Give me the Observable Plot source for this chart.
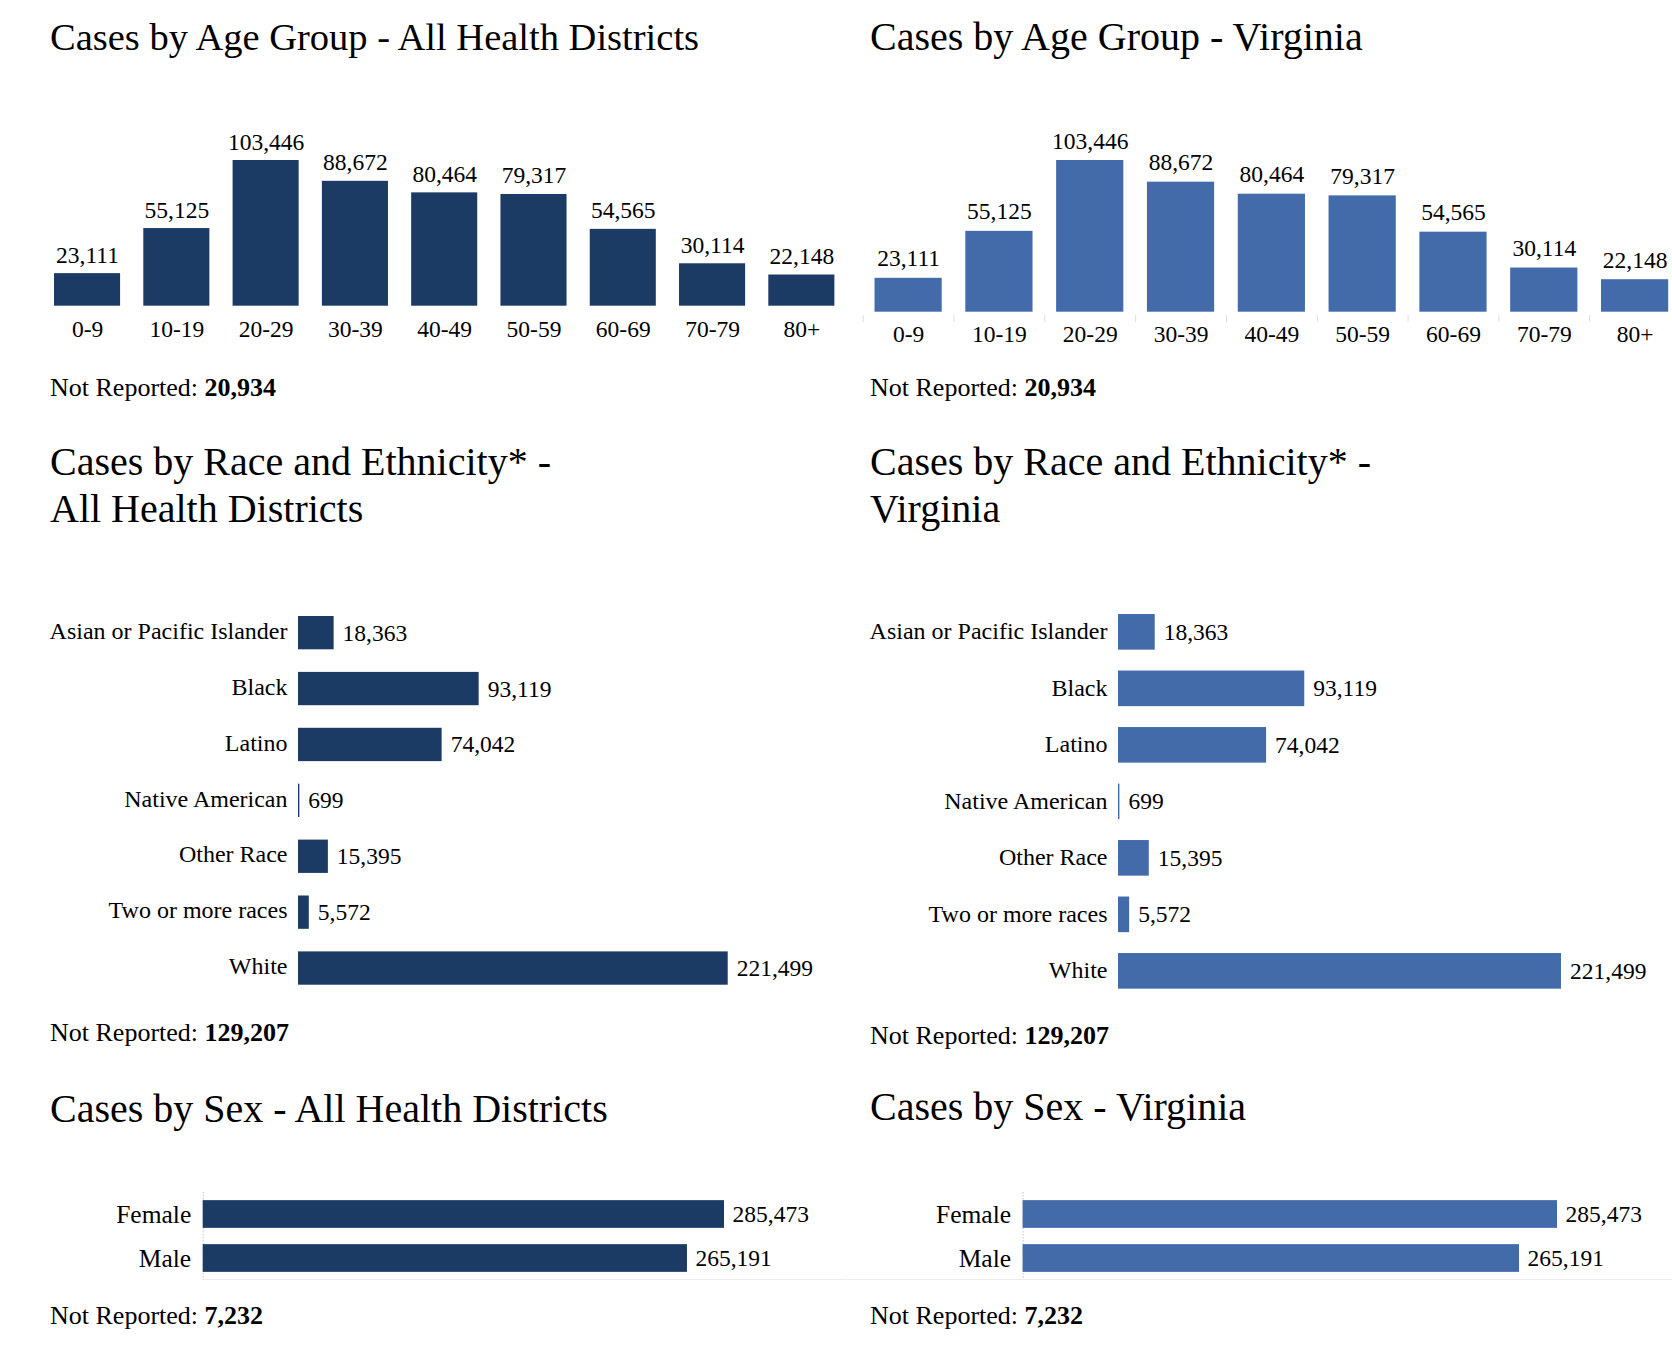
<!DOCTYPE html>
<html><head><meta charset="utf-8">
<script src="https://cdn.jsdelivr.net/npm/d3@7"></script>
<script src="https://cdn.jsdelivr.net/npm/@observablehq/plot@0.6"></script>
<style>
html,body{margin:0;padding:0;background:#fff;overflow:hidden;}
#page{position:relative;width:1672px;height:1356px;font-family:"Liberation Serif","Times New Roman",serif;color:#000;}
.abs{position:absolute;}
.title{font-size:40px;line-height:47px;white-space:nowrap;}
.title.small{font-size:38.5px;}
.nr{font-size:26px;line-height:30px;white-space:nowrap;}
.hline{height:1px;background:#ebebeb;}
svg{overflow:visible;}
</style></head><body><div id="page"></div>
<script>
// ---- data ----
const regions = ["All Health Districts", "Virginia"];
const regionColors = ["#1b3a64", "#436aa9"];

const ageGroups = ["0-9","10-19","20-29","30-39","40-49","50-59","60-69","70-79","80+"];
const ageCases = [23111, 55125, 103446, 88672, 80464, 79317, 54565, 30114, 22148];
const ageNotReported = 20934;

const raceGroups = ["Asian or Pacific Islander","Black","Latino","Native American","Other Race","Two or more races","White"];
const raceCases = [18363, 93119, 74042, 699, 15395, 5572, 221499];
const raceNotReported = 129207;

const sexGroups = ["Female","Male"];
const sexCases = [285473, 265191];
const sexNotReported = 7232;

// ---- tables ----
const ageData = ageGroups.map((g, i) => ({group: g, cases: ageCases[i]}));
const raceData = raceGroups.map((g, i) => ({group: g, cases: raceCases[i]}));
const sexData = sexGroups.map((g, i) => ({group: g, cases: sexCases[i]}));
const fmt = d3.format(",");
const FONT = "'Liberation Serif','Times New Roman',serif";

// ---- layout ----
const layouts = [
  {
    tx: 50, ageTitleClass: "title small",
    age: {left: 0, top: 100, width: 846, height: 260, mL: 42.4, mR: 0, mT: 60, mB: 54.3, tickPad: 14, labelDy: -11, seps: false},
    ageTitleTop: 13.5, ageNRTop: 372.5,
    raceTitleTop: 438,
    race: {left: 0, top: 580, width: 836, height: 440, mL: 298, mR: 108.3, mT: 24.7, mB: 24, pi: 0.404, po: 0.202, labelDy: -2},
    raceNRTop: 1018,
    sexTitleTop: 1084.7,
    sex: {left: 0, top: 1170, width: 836, height: 120, mL: 202.7, mR: 112, mT: 22, mB: 10, pi: 0.37, po: 0.185},
    sexNRTop: 1301,
    hline: {left: 203, width: 643, top: 1279}
  },
  {
    tx: 870, ageTitleClass: "title",
    age: {left: 836, top: 100, width: 844, height: 260, mL: 26.7, mR: 0, mT: 60, mB: 48.3, tickPad: 13, labelDy: -12, seps: true},
    ageTitleTop: 13, ageNRTop: 372.5,
    raceTitleTop: 438,
    race: {left: 836, top: 580, width: 836, height: 440, mL: 282, mR: 111, mT: 23.6, mB: 20.9, pi: 0.37, po: 0.185, labelDy: -1},
    raceNRTop: 1021,
    sexTitleTop: 1083,
    sex: {left: 836, top: 1170, width: 836, height: 120, mL: 186.6, mR: 115, mT: 22, mB: 10, pi: 0.37, po: 0.185},
    sexNRTop: 1301,
    hline: {left: 847, width: 825, top: 1279}
  }
];

const page = document.getElementById("page");
function place(el, left, top) {
  el.classList.add("abs");
  el.style.left = left + "px";
  el.style.top = top + "px";
  page.appendChild(el);
  return el;
}
function textDiv(cls, html, left, top) {
  const d = document.createElement("div");
  d.className = cls;
  d.innerHTML = html;
  return place(d, left, top);
}

regions.forEach((region, k) => {
  const L = layouts[k];
  const color = regionColors[k];

  // Age group
  textDiv(L.ageTitleClass, "Cases by Age Group - " + region, L.tx, L.ageTitleTop);
  const a = L.age;
  const step = (a.width - a.mL - a.mR) / ageGroups.length;
  const ageMarks = [
    Plot.barY(ageData, {x: "group", y: "cases", fill: color}),
    Plot.text(ageData, {x: "group", y: "cases", text: d => fmt(d.cases), lineAnchor: "bottom", dy: a.labelDy, fontSize: 23.5}),
    Plot.axisX({tickSize: 0, tickPadding: a.tickPad, fontSize: 23.5, label: null})
  ];
  if (a.seps) {
    ageMarks.push(Plot.axisX({tickSize: 7, dy: 3.3, dx: -step / 2, tickFormat: () => "", stroke: "#dedede", label: null}));
  }
  const ageChart = Plot.plot({
    width: a.width, height: a.height,
    marginLeft: a.mL, marginRight: a.mR, marginTop: a.mT, marginBottom: a.mB,
    style: {fontFamily: FONT, fontSize: "23.5px", color: "#000", background: "transparent", overflow: "visible"},
    x: {type: "band", domain: ageGroups, paddingInner: 0.26, paddingOuter: 0.13, round: false, label: null},
    y: {domain: [0, d3.max(ageCases)], axis: null, label: null},
    marks: ageMarks
  });
  place(ageChart, a.left, a.top);
  textDiv("nr", "Not Reported: <b>" + fmt(ageNotReported) + "</b>", L.tx, L.ageNRTop);

  // Race
  textDiv("title", "Cases by Race and Ethnicity* -<br>" + region, L.tx, L.raceTitleTop);
  const r = L.race;
  const raceChart = Plot.plot({
    width: r.width, height: r.height,
    marginLeft: r.mL, marginRight: r.mR, marginTop: r.mT, marginBottom: r.mB,
    style: {fontFamily: FONT, fontSize: "24px", color: "#000", background: "transparent", overflow: "visible"},
    y: {type: "band", domain: raceGroups, paddingInner: r.pi, paddingOuter: r.po, round: false, label: null},
    x: {domain: [0, d3.max(raceCases)], axis: null, label: null},
    marks: [
      Plot.barX(raceData, {y: "group", x: "cases", fill: color}),
      Plot.text(raceData, {y: "group", x: "cases", text: d => fmt(d.cases), textAnchor: "start", dx: 8.5, fontSize: 23.5}),
      Plot.axisY({tickSize: 0, tickPadding: 11, dy: r.labelDy, fontSize: 24, label: null})
    ]
  });
  place(raceChart, r.left, r.top);
  textDiv("nr", "Not Reported: <b>" + fmt(raceNotReported) + "</b>", L.tx, L.raceNRTop);

  // Sex
  textDiv("title", "Cases by Sex - " + region, L.tx, L.sexTitleTop);
  const s = L.sex;
  const sexChart = Plot.plot({
    width: s.width, height: s.height,
    marginLeft: s.mL, marginRight: s.mR, marginTop: s.mT, marginBottom: s.mB,
    style: {fontFamily: FONT, fontSize: "25.5px", color: "#000", background: "transparent", overflow: "visible"},
    y: {type: "band", domain: sexGroups, paddingInner: s.pi, paddingOuter: s.po, round: false, label: null},
    x: {domain: [0, d3.max(sexCases)], axis: null, label: null},
    marks: [
      Plot.ruleX([0], {stroke: "#c4c4c4", strokeDasharray: "1.5,1.5", strokeWidth: 1}),
      Plot.barX(sexData, {y: "group", x: "cases", fill: color}),
      Plot.text(sexData, {y: "group", x: "cases", text: d => fmt(d.cases), textAnchor: "start", dx: 8, fontSize: 23.5}),
      Plot.axisY({tickSize: 0, tickPadding: 12, fontSize: 25.5, label: null})
    ]
  });
  place(sexChart, s.left, s.top);
  const hl = document.createElement("div");
  hl.className = "hline";
  hl.style.width = L.hline.width + "px";
  place(hl, L.hline.left, L.hline.top);
  textDiv("nr", "Not Reported: <b>" + fmt(sexNotReported) + "</b>", L.tx, L.sexNRTop);
});
</script>
</body></html>
